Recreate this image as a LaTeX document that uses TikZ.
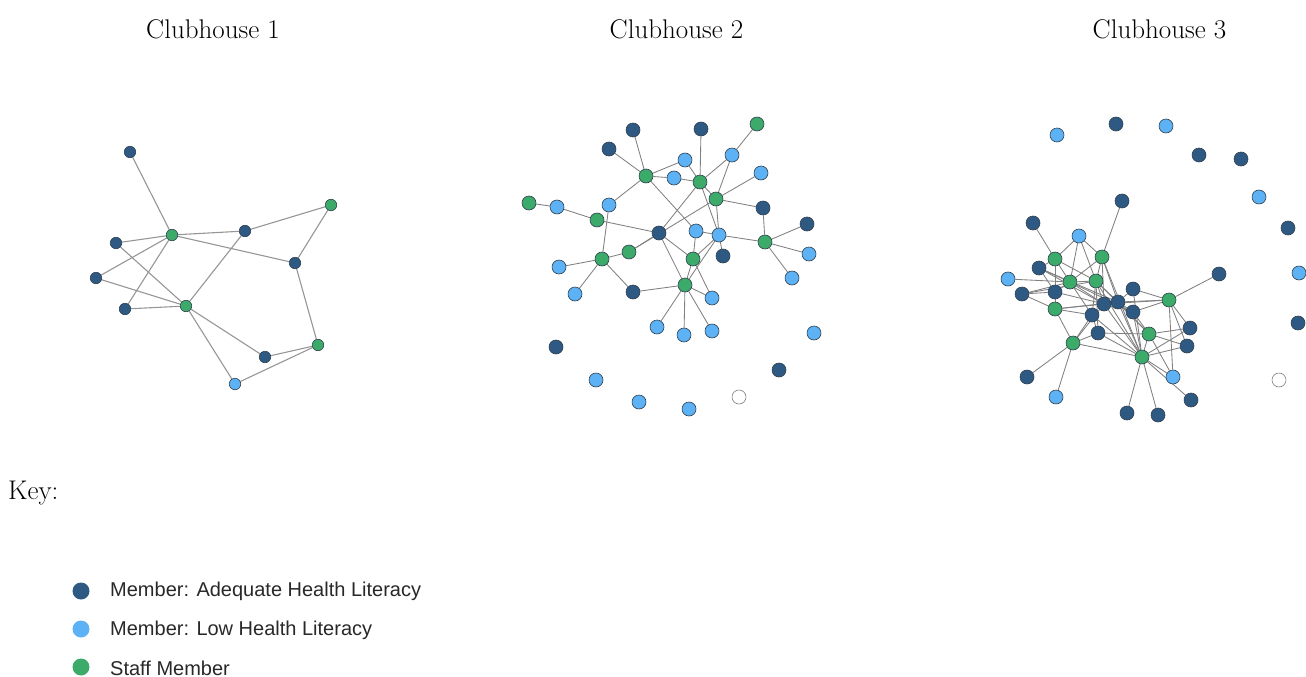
\documentclass[tikz,border=0pt]{standalone}
\usepackage{fontspec}
\newfontfamily\keyfont{Liberation Sans}
\usetikzlibrary{backgrounds}
\definecolor{adq}{RGB}{46,89,130}
\definecolor{low}{RGB}{92,178,245}
\definecolor{stf}{RGB}{60,170,105}
\definecolor{rim}{RGB}{48,64,80}
\definecolor{edgegray}{RGB}{128,128,128}
\definecolor{edgelight}{RGB}{150,150,150}
\definecolor{keytext}{RGB}{40,40,40}
\tikzset{
  nd/.style={circle, draw=rim, line width=0.6pt, inner sep=0pt, minimum size=14pt},
  ad/.style={nd, fill=adq},
  lo/.style={nd, fill=low},
  sf/.style={nd, fill=stf},
  un/.style={nd, fill=white, draw=gray},
  ln/.style={draw=edgegray, line width=0.85pt},
  ttl/.style={font=\fontsize{27}{32}\selectfont, inner sep=0pt},
  keydot/.style={circle, inner sep=0pt, minimum size=17pt},
  keylbl/.style={font=\keyfont\fontsize{20}{24}\selectfont, text=keytext, anchor=west, inner sep=0pt},
}
\begin{document}
\begin{tikzpicture}[x=1pt,y=-1pt]
\useasboundingbox (0,0) rectangle (1306,677);

% titles
\node[ttl] (t1) at (213,29) {Clubhouse 1};
\node[ttl] (t2) at (676.5,29) {Clubhouse 2};
\node[ttl] (t3) at (1159.5,29) {Clubhouse 3};

% ---------------- Clubhouse 1 ----------------
\begin{scope}[nd/.append style={minimum size=11.5pt}]
\node[ad] (a1) at (130,152) {};
\node[sf] (g1) at (172,235) {};
\node[ad] (a2) at (245,231) {};
\node[sf] (g2) at (331,205) {};
\node[ad] (a3) at (116,243) {};
\node[ad] (a4) at (96,278) {};
\node[ad] (a5) at (295,263) {};
\node[sf] (g3) at (186,306) {};
\node[ad] (a6) at (125,309) {};
\node[sf] (g4) at (318,345) {};
\node[ad] (a7) at (265,357) {};
\node[lo] (l1) at (235,384) {};
\end{scope}
\begin{scope}[on background layer]
\foreach \u/\v in {a1/g1,g1/a2,a2/g2,g1/a5,g2/a5,a5/g4,a3/g1,a3/g3,a4/g1,a4/g3,
                   a6/g1,a6/g3,g3/a2,g3/a7,g3/l1,a7/g4,l1/g4}
  \draw[ln, draw=edgelight, line width=1.1pt] (\u) -- (\v);
\end{scope}

% ---------------- Clubhouse 2 ----------------
\node[ad] (A1) at (633,130) {};
\node[ad] (A2) at (701,129) {};
\node[sf] (G1) at (757,124) {};
\node[ad] (A3) at (609,149) {};
\node[lo] (L1) at (685,160) {};
\node[lo] (L2) at (732,155) {};
\node[sf] (G2) at (646,176) {};
\node[lo] (L3) at (674,178) {};
\node[lo] (L4) at (761,173) {};
\node[sf] (G3) at (700,182) {};
\node[sf] (G4) at (529,203) {};
\node[lo] (L5) at (557,207) {};
\node[lo] (L6) at (609,205) {};
\node[sf] (G5) at (716,199) {};
\node[ad] (A4) at (763,208) {};
\node[sf] (G6) at (597,220) {};
\node[ad] (A5) at (807,224) {};
\node[ad] (A6) at (659,233) {};
\node[lo] (L7) at (696,231) {};
\node[lo] (L8) at (719,235) {};
\node[sf] (G7) at (765,242) {};
\node[sf] (G8) at (629,252) {};
\node[lo] (L9) at (809,254) {};
\node[sf] (G9) at (602,259) {};
\node[ad] (A7) at (723,256) {};
\node[sf] (G10) at (693,259) {};
\node[lo] (L10) at (559,267) {};
\node[lo] (L11) at (792,278) {};
\node[sf] (G11) at (685,285) {};
\node[lo] (L12) at (575,294) {};
\node[ad] (A8) at (633,292) {};
\node[lo] (L13) at (712,298) {};
\node[lo] (L14) at (657,327) {};
\node[lo] (L15) at (684,335) {};
\node[lo] (L16) at (712,331) {};
\node[lo] (L17) at (814,333) {};
\node[ad] (A9) at (556,347) {};
\node[ad] (A10) at (779,370) {};
\node[lo] (L18) at (596,380) {};
\node[un] (W1) at (739,397) {};
\node[lo] (L19) at (639,402) {};
\node[lo] (L20) at (689,409) {};
\begin{scope}[on background layer]
\foreach \u/\v in {A1/G2,A3/G2,G2/L1,G2/L3,G2/L6,G2/L7,
                   L1/G3,L3/G3,A2/G3,G3/L2,G3/G5,G3/A6,G3/L8,
                   L2/G1,L2/G5,G5/L4,G5/A4,G5/L8,G5/G8,G8/A6,
                   G4/L5,L5/G6,G6/A6,L6/G9,
                   G8/G9,G9/L10,G9/L12,G9/A8,A8/G11,
                   A6/G10,A6/G11,
                   L7/L8,L7/G10,L8/G7,L8/A7,L8/G10,L8/G11,
                   G10/G11,G10/L13,G11/L13,G11/L14,G11/L15,G11/L16,
                   G7/A4,G7/A5,G7/L9,G7/L11}
  \draw[ln] (\u) -- (\v);
\end{scope}

% ---------------- Clubhouse 3 ----------------
% isolated members
\node[lo] (I1) at (1057,135) {};
\node[ad] (I2) at (1116,124) {};
\node[lo] (I3) at (1166,126) {};
\node[ad] (I4) at (1199,155) {};
\node[ad] (I5) at (1241,159) {};
\node[lo] (I6) at (1259,197) {};
\node[ad] (I7) at (1288,228) {};
\node[lo] (I8) at (1299,273) {};
\node[ad] (I9) at (1298,323) {};
\node[un] (I10) at (1279,380) {};
% connected component
\node[ad] (K1) at (1122,201) {};
\node[ad] (K2) at (1033,223) {};
\node[lo] (K3) at (1079,236) {};
\node[sf] (K4) at (1055,259) {};
\node[sf] (K5) at (1102,257) {};
\node[ad] (K6) at (1039,268) {};
\node[lo] (K7) at (1008,279) {};
\node[sf] (K8) at (1070,282) {};
\node[sf] (K9) at (1096,281) {};
\node[ad] (K10) at (1022,294) {};
\node[ad] (K11) at (1055,292) {};
\node[ad] (K12) at (1133,289) {};
\node[ad] (K13) at (1104,304) {};
\node[ad] (K14) at (1118,302) {};
\node[sf] (K15) at (1055,309) {};
\node[ad] (K16) at (1092,315) {};
\node[ad] (K17) at (1133,312) {};
\node[sf] (K18) at (1169,300) {};
\node[ad] (K19) at (1219,274) {};
\node[ad] (K20) at (1098,333) {};
\node[sf] (K21) at (1149,334) {};
\node[ad] (K22) at (1190,328) {};
\node[sf] (K23) at (1073,343) {};
\node[ad] (K24) at (1187,346) {};
\node[sf] (K25) at (1142,357) {};
\node[ad] (K26) at (1027,377) {};
\node[lo] (K27) at (1056,397) {};
\node[lo] (K28) at (1173,377) {};
\node[ad] (K29) at (1191,400) {};
\node[ad] (K30) at (1158,415) {};
\node[ad] (K31) at (1127,413) {};
\begin{scope}[on background layer]
\foreach \u/\v in {K1/K5,K2/K4,K3/K4,K3/K5,K3/K8,K3/K9,
                   K4/K6,K4/K8,K4/K9,K4/K11,
                   K5/K8,K5/K9,K5/K13,K5/K14,K5/K25,
                   K6/K8,K6/K13,K6/K14,K6/K11,K7/K8,
                   K8/K10,K8/K11,K8/K13,K8/K16,K8/K9,K8/K17,
                   K9/K13,K9/K14,K9/K16,K9/K20,K9/K21,K9/K25,
                   K10/K15,K10/K11,K10/K9,K11/K15,K11/K13,
                   K15/K16,K15/K14,K15/K23,K15/K13,
                   K12/K14,K12/K18,K12/K25,
                   K13/K14,K13/K23,K13/K18,K13/K25,
                   K14/K18,K14/K17,K14/K21,K14/K25,
                   K16/K23,K16/K25,K16/K20,
                   K17/K21,K17/K18,K17/K25,
                   K18/K19,K18/K22,K18/K24,K18/K28,
                   K20/K21,K20/K23,K20/K25,
                   K21/K22,K21/K24,K21/K28,K21/K25,K22/K25,
                   K23/K26,K23/K27,K23/K25,
                   K25/K29,K25/K30,K25/K31,K25/K28,K25/K24}
  \draw[ln] (\u) -- (\v);
\end{scope}

% ---------------- Key ----------------
\node[ttl, anchor=west] (key) at (8,493) {Key:};
\node[keydot, fill=adq] (k1) at (81,591) {};
\node[keydot, fill=low] (k2) at (81,629) {};
\node[keydot, fill=stf] (k3) at (81,667) {};
\node[keylbl] (k1t) at (110,591) {Member: Adequate Health Literacy};
\node[keylbl] (k2t) at (110,630) {Member: Low Health Literacy};
\node[keylbl] (k3t) at (110,668) {Staff Member};
\end{tikzpicture}
\end{document}
